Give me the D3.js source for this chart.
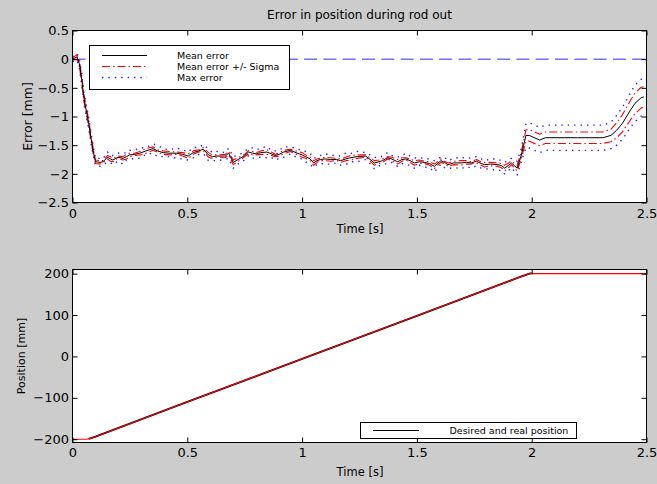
<!DOCTYPE html>
<html><head><meta charset="utf-8">
<script src="https://cdn.jsdelivr.net/npm/d3@7"></script>
<style>body{margin:0;background:#cccccc;} svg{display:block;}</style>
</head><body><svg id="c" width="657" height="484"></svg>
<script>
// ---------- data ----------
const xTicks = [0, 0.5, 1, 1.5, 2, 2.5];
const errTicks = [0.5, 0, -0.5, -1, -1.5, -2, -2.5];
const posTicks = [-200, -100, 0, 100, 200];

const errTime = [0,0.01,0.02,0.03,0.04,0.05,0.06,0.07,0.08,0.09,
 0.1,0.12,0.133,0.152,0.165,0.176,0.198,0.22,0.235,0.249,
 0.27,0.293,0.32,0.351,0.37,0.395,0.42,0.454,0.48,0.504,
 0.526,0.55,0.57,0.592,0.61,0.628,0.665,0.68,0.70,0.73,
 0.75,0.767,0.784,0.80,0.82,0.847,0.865,0.884,0.90,0.92,
 0.949,0.979,1.0,1.015,1.035,1.05,1.065,1.08,1.10,1.124,
 1.15,1.168,1.19,1.21,1.24,1.277,1.30,1.314,1.335,1.35,
 1.372,1.39,1.416,1.435,1.452,1.47,1.489,1.51,1.532,1.555,
 1.576,1.59,1.605,1.62,1.635,1.66,1.693,1.715,1.737,1.759,
 1.78,1.795,1.82,1.853,1.87,1.882,1.90,1.912,1.925,1.937,
 1.955,1.965,1.975,1.99,2.006,2.035,2.06,2.2,2.31,2.345,
 2.37,2.395,2.43,2.45,2.477,2.488];
const errMean = [0,0.02,0.04,-0.08,-0.35,-0.68,-0.9,-1.1,-1.36,-1.6,
 -1.79,-1.80,-1.79,-1.71,-1.74,-1.76,-1.71,-1.73,-1.70,-1.67,
 -1.66,-1.64,-1.60,-1.56,-1.60,-1.63,-1.64,-1.64,-1.66,-1.69,
 -1.63,-1.60,-1.57,-1.67,-1.70,-1.69,-1.69,-1.64,-1.80,-1.73,
 -1.68,-1.62,-1.64,-1.65,-1.63,-1.62,-1.65,-1.68,-1.66,-1.62,
 -1.59,-1.64,-1.67,-1.70,-1.74,-1.81,-1.77,-1.75,-1.74,-1.75,
 -1.75,-1.77,-1.74,-1.72,-1.70,-1.69,-1.76,-1.81,-1.79,-1.77,
 -1.72,-1.74,-1.79,-1.75,-1.74,-1.77,-1.81,-1.79,-1.80,-1.82,
 -1.87,-1.82,-1.77,-1.80,-1.84,-1.81,-1.81,-1.80,-1.81,-1.78,
 -1.82,-1.84,-1.83,-1.84,-1.86,-1.90,-1.85,-1.81,-1.86,-1.90,
 -1.67,-1.50,-1.33,-1.33,-1.36,-1.41,-1.37,-1.37,-1.37,-1.33,
 -1.24,-1.12,-0.89,-0.77,-0.67,-0.66];
const errSigma = [0.02,0.03,0.04,0.05,0.06,0.06,0.06,0.06,0.06,0.05,
 0.03,0.03,0.02,0.03,0.04,0.03,0.02,0.03,0.04,0.03,
 0.02,0.03,0.04,0.03,0.02,0.03,0.03,0.02,0.03,0.04,
 0.03,0.02,0.03,0.04,0.03,0.02,0.03,0.03,0.04,0.03,
 0.02,0.03,0.03,0.02,0.03,0.04,0.03,0.02,0.03,0.03,
 0.02,0.03,0.04,0.03,0.03,0.04,0.03,0.02,0.03,0.03,
 0.02,0.03,0.03,0.04,0.03,0.02,0.03,0.04,0.03,0.03,
 0.02,0.03,0.04,0.03,0.02,0.03,0.04,0.03,0.02,0.03,
 0.04,0.03,0.03,0.02,0.03,0.03,0.04,0.03,0.02,0.03,
 0.03,0.04,0.03,0.03,0.04,0.05,0.04,0.03,0.04,0.05,
 0.06,0.08,0.10,0.10,0.10,0.10,0.10,0.10,0.10,0.11,
 0.13,0.15,0.17,0.18,0.18,0.18];
const errMaxDev = [0.04,0.05,0.06,0.08,0.10,0.10,0.10,0.10,0.09,0.08,
 0.06,0.07,0.05,0.09,0.06,0.08,0.07,0.10,0.06,0.08,
 0.07,0.09,0.06,0.08,0.10,0.07,0.06,0.09,0.08,0.07,
 0.09,0.06,0.08,0.10,0.07,0.08,0.06,0.09,0.10,0.07,
 0.08,0.06,0.09,0.07,0.08,0.10,0.06,0.08,0.07,0.09,
 0.06,0.08,0.07,0.09,0.10,0.08,0.06,0.07,0.09,0.08,
 0.06,0.08,0.10,0.07,0.09,0.06,0.08,0.10,0.07,0.08,
 0.09,0.06,0.08,0.07,0.10,0.08,0.09,0.06,0.08,0.07,
 0.10,0.08,0.06,0.09,0.07,0.08,0.10,0.07,0.09,0.08,
 0.08,0.07,0.09,0.10,0.08,0.10,0.09,0.08,0.10,0.12,
 0.12,0.16,0.21,0.22,0.22,0.22,0.22,0.22,0.22,0.23,
 0.26,0.28,0.30,0.32,0.32,0.32];
const zeroTime = [0, 2.5];
const zeroErr = [0, 0];

const desiredTime = [0.07,0.1,0.5,1.0,1.5,1.95,1.99,2.0];
const desiredPos  = [-199,-194,-110,-6,98,192,200,201];
const realTime = [0,0.06,0.08,0.1,0.5,1.0,1.5,1.95,1.99,2.5];
const realPos  = [-200,-200,-198,-194,-110,-6,98,192,200,200];

const titleText = "Error in position during rod out";
const errLegend = ["Mean error", "Mean error +/- Sigma", "Max error"];
const posLegend = ["Desired and real position"];

// ---------- drawing ----------
const FONT = "'DejaVu Sans', sans-serif";
const svg = d3.select("#c");
svg.append("rect").attr("width",657).attr("height",484).attr("fill","#cccccc");
const fmt = d3.format("~g");

function panel(top, bottom, yDom, yTicks){
  const x = d3.scaleLinear().domain([0,2.5]).range([72.5,646.5]);
  const y = d3.scaleLinear().domain(yDom).range([bottom, top]);
  const g = svg.append("g");
  g.append("rect").attr("x",72.5).attr("y",top).attr("width",574).attr("height",bottom-top)
    .attr("fill","#fff");
  return {x,y,g,top,bottom};
}
function axes(p, yTicks, xPad, ySize){
  const {x,y,g,top,bottom} = p;
  const ax = (sel)=>{ sel.selectAll(".domain").remove();
    sel.selectAll("text").attr("font-family",FONT).attr("font-size",13).attr("fill","#000");
    sel.selectAll("line").attr("stroke","#000"); };
  g.append("g").attr("transform",`translate(0,${bottom})`)
    .call(d3.axisBottom(x).tickValues(xTicks).tickFormat(fmt).tickSize(-5).tickSizeOuter(0).tickPadding(xPad)).call(ax);
  g.append("g").attr("transform",`translate(0,${top})`)
    .call(d3.axisTop(x).tickValues(xTicks).tickFormat("").tickSize(-5).tickSizeOuter(0)).call(ax);
  g.append("g").attr("transform",`translate(72.5,0)`)
    .call(d3.axisLeft(y).tickValues(yTicks).tickFormat(fmt).tickSize(-5).tickSizeOuter(0).tickPadding(3.5)).call(ax);
  g.append("g").attr("transform",`translate(646.5,0)`)
    .call(d3.axisRight(y).tickValues(yTicks).tickFormat("").tickSize(-5).tickSizeOuter(0)).call(ax);
  g.append("rect").attr("x",72.5).attr("y",top).attr("width",574).attr("height",bottom-top)
    .attr("fill","none").attr("stroke","#000").attr("stroke-width",1);
}
function clip(p, id){
  svg.append("clipPath").attr("id",id).append("rect")
    .attr("x",72.5).attr("y",p.top).attr("width",574).attr("height",p.bottom-p.top);
  return p.g.append("g").attr("clip-path",`url(#${id})`);
}
function path(layer, xs, ys, p, color, width, dash){
  const line = d3.line().x(d=>p.x(d[0])).y(d=>p.y(d[1]));
  const el = layer.append("path").datum(xs.map((t,i)=>[t,ys[i]])).attr("d",line)
    .attr("fill","none").attr("stroke",color).attr("stroke-width",width)
    .attr("stroke-linejoin","round");
  if(dash) el.attr("stroke-dasharray",dash);
  return el;
}

// ---- top panel ----
const P1 = panel(30.5, 202.5, [-2.5,0.5], errTicks);
const L1 = clip(P1, "c1");
path(L1, zeroTime, zeroErr, P1, "#2a2aff", 1, "13,6.3");
const maxHi = errMean.map((m,i)=>m+errMaxDev[i]);
const maxLo = errMean.map((m,i)=>m-errMaxDev[i]);
const sigHi = errMean.map((m,i)=>m+errSigma[i]);
const sigLo = errMean.map((m,i)=>m-errSigma[i]);
path(L1, errTime, maxHi, P1, "#2020ff", 1.4, "1.4,5");
path(L1, errTime, maxLo, P1, "#2020ff", 1.4, "1.4,5");
path(L1, errTime, sigHi, P1, "#ff0000", 1.1, "8,3,1.5,3");
path(L1, errTime, sigLo, P1, "#ff0000", 1.1, "8,3,1.5,3");
path(L1, errTime, errMean, P1, "#000", 1);
axes(P1, errTicks, 6);

// legend top
const lg1 = P1.g.append("g");
lg1.append("rect").attr("x",89.5).attr("y",45.5).attr("width",200).attr("height",44)
  .attr("fill","#fff").attr("stroke","#000");
const lgStyles = [["#000",1,null],["#ff0000",1.1,"8,3,1.5,3"],["#2020ff",1.4,"1.4,5"]];
errLegend.forEach((t,i)=>{
  const yy = 55.5 + i*11;
  const ln = lg1.append("line").attr("x1",102).attr("x2",147).attr("y1",yy).attr("y2",yy)
    .attr("stroke",lgStyles[i][0]).attr("stroke-width",lgStyles[i][1]);
  if(lgStyles[i][2]) ln.attr("stroke-dasharray",lgStyles[i][2]);
  lg1.append("text").attr("x",177).attr("y",yy+3.5).text(t)
    .attr("font-family",FONT).attr("font-size",9.5).attr("fill","#000");
});

// titles
svg.append("text").attr("x",359.5).attr("y",19).attr("text-anchor","middle").text(titleText)
  .attr("font-family",FONT).attr("font-size",12).attr("fill","#000");
svg.append("text").attr("x",360).attr("y",233).attr("text-anchor","middle").text("Time [s]")
  .attr("font-family",FONT).attr("font-size",11.5).attr("fill","#000");
svg.append("text").attr("transform","translate(32,116.5) rotate(-90)").attr("text-anchor","middle")
  .text("Error [mm]").attr("font-family",FONT).attr("font-size",12.5).attr("fill","#000");

// ---- bottom panel ----
const P2 = panel(269.5, 442.5, [-208,210], posTicks);
const L2 = clip(P2, "c2");
path(L2, desiredTime, desiredPos, P2, "#000", 1.8);
path(L2, realTime, realPos, P2, "#ff0000", 1.1);
axes(P2, posTicks, 5);

const lg2 = P2.g.append("g");
lg2.append("rect").attr("x",360.5).attr("y",422.5).attr("width",216).attr("height",16)
  .attr("fill","#fff").attr("stroke","#000");
lg2.append("line").attr("x1",373).attr("x2",419).attr("y1",430.5).attr("y2",430.5)
  .attr("stroke","#000").attr("stroke-width",1);
lg2.append("text").attr("x",449.5).attr("y",434).text(posLegend[0])
  .attr("font-family",FONT).attr("font-size",9.5).attr("fill","#000");

svg.append("text").attr("x",360).attr("y",476).attr("text-anchor","middle").text("Time [s]")
  .attr("font-family",FONT).attr("font-size",11.5).attr("fill","#000");
svg.append("text").attr("transform","translate(25,356) rotate(-90)").attr("text-anchor","middle")
  .text("Position [mm]").attr("font-family",FONT).attr("font-size",11).attr("fill","#000");
</script></body></html>
